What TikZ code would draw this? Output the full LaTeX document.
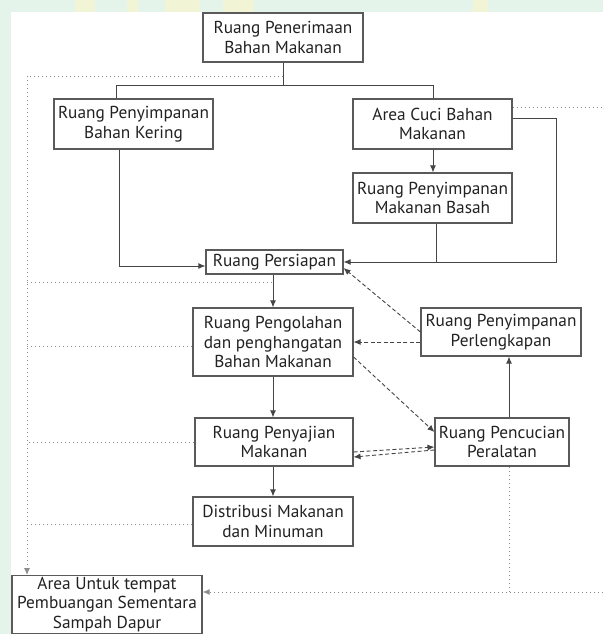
\documentclass[tikz,border=0pt]{standalone}
\usepackage{fontspec}
\setmainfont{PT Sans}
\usetikzlibrary{calc,arrows.meta}

\definecolor{mint}{HTML}{E5F4EB}
\definecolor{wmyellow}{HTML}{F1F5D6}
\definecolor{boxline}{HTML}{5A5A5A}
\definecolor{flowline}{HTML}{454545}
\definecolor{dotline}{HTML}{8C8C8C}
\definecolor{txt}{HTML}{222222}

\tikzset{
  room/.style={draw=boxline, line width=1.1pt, fill=white, align=center, inner sep=0pt,
    text=txt, font=\fontsize{17.3}{19.5}\selectfont},
  flow/.style={draw=flowline, line width=1pt},
  flowarr/.style={flow, -{Latex[length=7pt,width=6pt]}},
  backarr/.style={draw=flowline, line width=.9pt, dash pattern=on 4pt off 2.5pt, -{Latex[length=7pt,width=6pt]}},
  waste/.style={draw=dotline, line width=1pt, dash pattern=on 1pt off 3pt},
  wastearr/.style={waste, -{Latex[length=7pt,width=6pt]}}
}

\begin{document}
\begin{tikzpicture}[x=1pt,y=-1pt]
\useasboundingbox (0,0) rectangle (603,634);
\clip (0,0) rectangle (603,634);
\fill[mint] (0,0) rectangle (603,634);
\foreach \a/\b in {75/95,127/138,165/200,223/254,473/488}
  \fill[wmyellow] (\a,0) rectangle (\b,12);
\fill[white] (11,12) rectangle (603,634);

% ruang-ruang
\node[room, minimum width=160pt, minimum height=49pt] (terima) at (283,37.5) {Ruang Penerimaan\\Bahan Makanan};
\node[room, minimum width=159pt, minimum height=50pt] (kering) at (133.5,124) {Ruang Penyimpanan\\Bahan Kering};
\node[room, minimum width=159pt, minimum height=50pt] (cuci) at (432.5,124) {Area Cuci Bahan\\Makanan};
\node[room, minimum width=159pt, minimum height=50pt] (basah) at (432.5,198) {Ruang Penyimpanan\\Makanan Basah};
\node[room, minimum width=137pt, minimum height=24pt] (siap) at (274.5,262) {Ruang Persiapan};
\node[room, minimum width=160pt, minimum height=68pt] (olah) at (273,342) {Ruang Pengolahan\\dan penghangatan\\Bahan Makanan};
\node[room, minimum width=160pt, minimum height=48pt] (alat) at (501,332) {Ruang Penyimpanan\\Perlengkapan};
\node[room, minimum width=158pt, minimum height=48pt] (saji) at (274,442) {Ruang Penyajian\\Makanan};
\node[room, minimum width=134pt, minimum height=48pt] (cucialat) at (502,442) {Ruang Pencucian\\Peralatan};
\node[room, minimum width=160pt, minimum height=49pt] (distrib) at (273,521.5) {Distribusi Makanan\\dan Minuman};
\node[room, minimum width=190pt, inner ysep=1.5pt, anchor=north] (sampah) at (107,575) {Area Untuk tempat\\Pembuangan Sementara\\Sampah Dapur};

\coordinate (bagi) at (283,85);
\coordinate (kiri) at (116,85);
\coordinate (kanan) at (433,85);
\coordinate (turunkiri) at (119,266);
\coordinate (jauh) at (556,118);
\coordinate (gabung) at (436,262);
\coordinate (silang) at (273,282);
\coordinate (buangkiri) at (27,76);
\coordinate (buangkanan) at (509,592);
\coordinate (tepiatas) at (603,107);
\coordinate (tepibawah) at (603,592);

% alur bahan
\draw[flow] (terima.south) -- (bagi);
\draw[flow] (kering.north -| kiri) -- (kiri) -- (kanan) -- (cuci.north -| kanan);
\draw[flowarr] (kering.south -| turunkiri) -- (turunkiri) -- (siap.west |- turunkiri);
\draw[flowarr] ([yshift=6pt]cuci.east) -- (jauh) |- (siap.east);
\draw[flow] (basah.south -| gabung) -- (gabung);
\draw[flowarr] (cuci.south -| kanan) -- (basah.north -| kanan);
\draw[flowarr] (siap.south -| silang) -- (olah.north -| silang);
\draw[flowarr] (olah.south -| silang) -- (saji.north -| silang);
\draw[flowarr] (saji.south -| silang) -- (distrib.north -| silang);
\draw[flowarr] (cucialat.north -| buangkanan) -- (alat.south -| buangkanan);

% alur peralatan
\draw[backarr] (alat.west |- olah.east) -- (olah.east);
\draw[backarr] (alat.west) -- ([yshift=-6pt]siap.east);
\draw[backarr] ([yshift=-15pt]olah.east) -- ([yshift=10pt]cucialat.west);
\draw[backarr] ([yshift=-10pt]saji.east) -- ([yshift=-5pt]cucialat.west);
\draw[backarr] ([yshift=-8pt]cucialat.west) -- ([yshift=-15pt]saji.east);

% alur sampah
\draw[wastearr] (terima.south |- buangkiri) -- (buangkiri) -- (sampah.north -| buangkiri);
\draw[waste] (buangkiri |- silang) -- (silang);
\foreach \r/\s in {olah/-4, saji/0, distrib/-3}
  \draw[waste] ([yshift=\s pt]\r.west) coordinate (ujung) -- (ujung -| buangkiri);
\draw[waste] ([yshift=17pt]cuci.east) -- (tepiatas);
\draw[waste] (cucialat.south -| buangkanan) -- (buangkanan);
\draw[wastearr] (tepibawah) -- (sampah.east |- tepibawah);
\end{tikzpicture}
\end{document}
